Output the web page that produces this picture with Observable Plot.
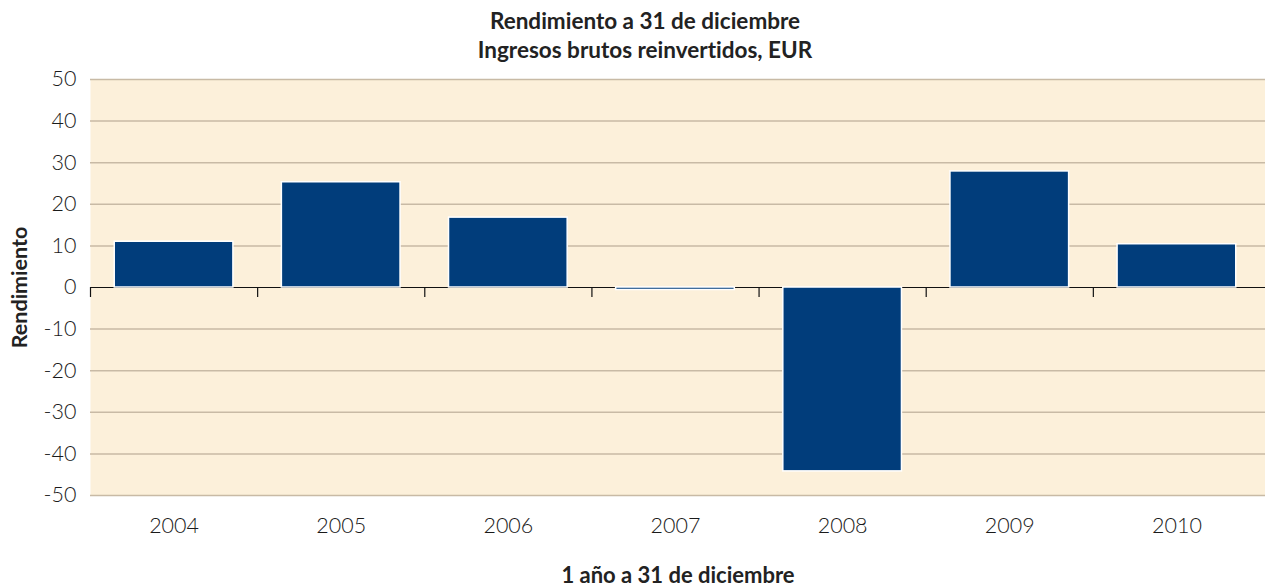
<!DOCTYPE html>
<html>
<head>
<meta charset="utf-8">
<script src="https://cdn.jsdelivr.net/npm/d3@7"></script>
<script src="https://cdn.jsdelivr.net/npm/@observablehq/plot@0.6"></script>
<style>
  html, body { margin: 0; padding: 0; background: #fff; }
  #chart svg { display: block; font-variant-ligatures: none; font-feature-settings: "liga" 0, "dlig" 0; }
  #chart g[aria-label="x-axis tick label"] text, #chart g[aria-label="y-axis tick label"] text { font-weight: 300; fill: #1a1a1a; }
</style>
</head>
<body>
<div id="chart"></div>
<script>
const years = [2004, 2005, 2006, 2007, 2008, 2009, 2010];
const values = [11.0, 25.3, 16.8, -0.6, -44.2, 27.9, 10.4];
const yTicks = [-50, -40, -30, -20, -10, 0, 10, 20, 30, 40, 50];
const titleLines = ["Rendimiento a 31 de diciembre", "Ingresos brutos reinvertidos, EUR"];
const yLabel = "Rendimiento";
const xLabel = "1 año a 31 de diciembre";

const data = years.map((year, i) => ({year, value: values[i]}));
const boundaries = years.map(y => y - 0.5);

const chart = Plot.plot({
  width: 1265,
  height: 587,
  marginTop: 79,
  marginBottom: 92,
  marginLeft: 90,
  marginRight: 0,
  style: {fontFamily: "Lato, 'Open Sans', sans-serif", fontSize: "21.5px", color: "#222", background: "#fff"},
  x: {domain: [2003.5, 2010.53], ticks: years, tickFormat: d => String(d), tickSize: 0, tickPadding: 22, label: null},
  y: {domain: [-50, 50], ticks: yTicks, tickFormat: d => String(d), tickSize: 0, tickPadding: 14, label: null},
  marks: [
    Plot.frame({fill: "#fcf0da", stroke: "none"}),
    Plot.ruleY(yTicks.filter(d => d !== 0), {stroke: "#c8baa5", strokeWidth: 1.5}),
    Plot.ruleY([0], {stroke: "#111", strokeWidth: 1.2}),
    Plot.ruleX(boundaries, {y1: 0, y2: -2.4, stroke: "#111", strokeWidth: 1.2}),
    Plot.rect(data, {x1: d => d.year - 0.355, x2: d => d.year + 0.355, y1: 0, y2: "value", fill: "#013d7b", stroke: "white", strokeWidth: 1.5}),
    Plot.text([titleLines[0]], {frameAnchor: "top", dx: -33, dy: -58, lineAnchor: "middle", fontWeight: "bold", fontSize: 22.5, fill: "#222"}),
    Plot.text([titleLines[1]], {frameAnchor: "top", dx: -33, dy: -29, lineAnchor: "middle", fontWeight: "bold", fontSize: 22.5, fill: "#222"}),
    Plot.text([yLabel], {frameAnchor: "left", textAnchor: "middle", dx: -70, rotate: -90, lineAnchor: "middle", fontWeight: "bold", fontSize: 21.5, fill: "#222"}),
    Plot.text([xLabel], {frameAnchor: "bottom", dy: 80, lineAnchor: "middle", fontWeight: "bold", fontSize: 22, fill: "#222"})
  ]
});
document.getElementById("chart").appendChild(chart);
</script>
</body>
</html>
